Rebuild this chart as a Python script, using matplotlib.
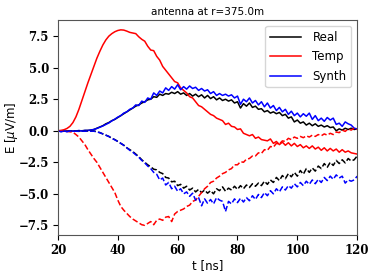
import numpy as np
import matplotlib
matplotlib.use("Agg")
import matplotlib.pyplot as plt

# time axis [ns], 1 ns steps
t = np.arange(20, 121, 1)

real_pos = [0.0, 0.0, -0.02, -0.03, -0.03, -0.02, -0.02, 0.0, 0.0, 0.02, 0.03, 0.05,
            0.1, 0.2, 0.3, 0.4, 0.55, 0.65, 0.8, 0.9, 1.05, 1.2, 1.35, 1.5, 1.65, 1.8,
            1.95, 2.05, 2.2, 2.3, 2.45, 2.5, 2.7, 2.65, 2.9, 2.8, 2.95, 2.9, 3.05, 2.95,
            3.1, 2.9, 3.0, 2.8, 2.95, 2.75, 2.9, 2.7, 2.85, 2.6, 2.8, 2.55, 2.7, 2.45,
            2.6, 2.4, 2.5, 2.35, 2.45, 2.2, 2.3, 1.8, 2.15, 1.95, 2.2, 1.85, 1.95, 1.7,
            1.75, 1.5, 1.6, 1.4, 1.5, 1.35, 1.45, 1.2, 1.3, 1.0, 1.1, 0.7, 0.85, 0.6,
            0.7, 0.45, 0.6, 0.4, 0.55, 0.35, 0.45, 0.3, 0.4, 0.25, 0.3, 0.0, 0.15, 0.05,
            0.2, 0.1, 0.2, 0.1, 0.15]
real_neg = [0.0, -0.05, -0.02, -0.04, -0.03, -0.05, -0.03, -0.02, -0.03, -0.02, -0.03, -0.03,
            -0.02, -0.08, -0.15, -0.25, -0.35, -0.45, -0.6, -0.7, -0.85, -1.0, -1.15, -1.35,
            -1.5, -1.65, -1.85, -2.05, -2.3, -2.5, -2.7, -2.85, -3.05, -3.1, -3.3, -3.4,
            -3.7, -3.75, -4.05, -4.0, -4.35, -4.25, -4.55, -4.4, -4.7, -4.55, -4.85, -4.65,
            -4.9, -4.7, -4.95, -4.75, -5.0, -4.6, -4.75, -4.45, -4.8, -4.55, -4.7, -4.4,
            -4.65, -4.35, -4.6, -4.3, -4.5, -4.2, -4.4, -4.15, -4.35, -4.0, -4.25, -3.9,
            -4.1, -3.7, -3.95, -3.55, -3.8, -3.4, -3.65, -3.3, -3.6, -3.15, -3.45, -3.0,
            -3.3, -2.95, -3.2, -2.8, -3.0, -2.6, -2.9, -2.5, -2.75, -2.35, -2.6, -2.3,
            -2.55, -2.2, -2.4, -2.3, -2.0]

temp_pos = [0.0, 0.03, 0.08, 0.18, 0.35, 0.65, 1.1, 1.7, 2.4, 3.1, 3.8, 4.45, 5.1, 5.75,
            6.3, 6.8, 7.2, 7.5, 7.7, 7.85, 7.95, 8.0, 7.98, 7.9, 7.8, 7.75, 7.7, 7.45,
            7.25, 7.1, 6.7, 6.4, 6.35, 5.9, 5.6, 5.1, 4.8, 4.5, 4.2, 3.9, 3.8, 3.4, 3.2,
            3.0, 2.7, 2.6, 2.3, 2.0, 1.9, 1.7, 1.5, 1.3, 1.2, 1.0, 0.9, 0.8, 0.5, 0.6,
            0.35, 0.3, 0.1, 0.15, -0.2, -0.3, -0.4, -0.3, -0.6, -0.5, -0.7, -0.75, -0.8,
            -0.65, -1.0, -0.85, -1.1, -0.9, -1.15, -0.95, -1.2, -1.0, -1.25, -1.1, -1.35,
            -1.2, -1.4, -1.2, -1.45, -1.3, -1.55, -1.35, -1.6, -1.4, -1.6, -1.45, -1.7,
            -1.5, -1.7, -1.6, -1.75, -1.8, -1.85]
temp_neg = [0.0, 0.0, -0.02, -0.05, -0.08, -0.12, -0.3, -0.5, -0.8, -1.1, -1.5, -1.85,
            -2.2, -2.5, -2.9, -3.3, -3.7, -4.1, -4.5, -4.9, -5.5, -6.0, -6.3, -6.55, -6.8,
            -7.0, -7.15, -7.3, -7.45, -7.5, -7.35, -7.2, -7.45, -7.1, -7.0, -7.1, -6.85,
            -6.8, -7.2, -6.6, -6.4, -6.3, -6.2, -6.0, -5.9, -5.6, -5.5, -5.2, -4.9, -4.6,
            -4.4, -4.1, -4.0, -3.75, -3.6, -3.4, -3.3, -3.1, -3.0, -2.7, -2.7, -2.45, -2.5,
            -2.25, -2.2, -2.0, -2.0, -1.75, -1.8, -1.5, -1.55, -1.25, -1.3, -1.0, -1.05,
            -0.8, -0.85, -0.6, -0.7, -0.5, -0.6, -0.45, -0.55, -0.4, -0.5, -0.35, -0.45,
            -0.3, -0.4, -0.25, -0.35, -0.2, -0.3, -0.1, -0.15, 0.05, -0.05, 0.15, 0.05,
            0.2, 0.1]

synth_pos = [0.0, -0.05, -0.02, -0.06, 0.0, -0.04, -0.02, 0.02, -0.02, 0.03, 0.02, 0.06,
             0.1, 0.18, 0.28, 0.38, 0.5, 0.62, 0.78, 0.92, 1.08, 1.2, 1.4, 1.5, 1.7, 1.8,
             2.05, 2.0, 2.35, 2.25, 2.6, 2.5, 3.0, 2.8, 3.15, 3.0, 3.4, 3.2, 3.5, 3.3,
             3.65, 3.25, 3.5, 3.3, 3.55, 3.35, 3.45, 3.2, 3.35, 3.15, 3.25, 2.95, 3.1,
             2.8, 2.95, 2.8, 2.9, 2.75, 2.85, 2.6, 2.75, 2.1, 2.5, 2.3, 2.6, 2.2, 2.4,
             2.05, 2.3, 1.9, 2.2, 1.8, 2.0, 1.6, 1.85, 1.5, 1.7, 1.3, 1.55, 1.2, 1.4,
             1.1, 1.35, 1.15, 1.4, 0.9, 1.2, 0.8, 1.0, 0.75, 1.05, 0.85, 1.0, 0.5, 0.6,
             0.35, 0.7, 0.55, 0.45, 0.2, 0.15]
synth_neg = [0.0, -0.08, -0.03, -0.07, -0.02, -0.06, -0.03, -0.05, -0.02, -0.04, -0.02, -0.03,
             -0.03, -0.1, -0.15, -0.25, -0.35, -0.45, -0.6, -0.72, -0.85, -1.0, -1.15, -1.35,
             -1.55, -1.7, -1.9, -2.1, -2.35, -2.55, -2.8, -3.0, -3.3, -3.45, -3.9, -3.75,
             -4.3, -4.1, -4.6, -4.4, -4.8, -4.6, -5.0, -4.85, -5.2, -4.95, -5.5, -5.3,
             -5.95, -5.4, -5.75, -5.45, -5.8, -5.3, -5.5, -5.6, -6.4, -5.6, -5.8, -5.4,
             -5.7, -5.35, -5.65, -5.3, -5.55, -5.15, -5.45, -5.05, -5.3, -4.9, -5.15, -4.75,
             -5.0, -4.6, -4.85, -4.45, -4.7, -4.35, -4.55, -4.2, -4.45, -4.1, -4.35, -4.0,
             -4.25, -3.9, -4.2, -3.85, -4.1, -3.7, -3.95, -3.6, -3.85, -3.5, -3.75, -3.6,
             -4.15, -3.9, -4.0, -3.9, -3.6]

fig = plt.figure(figsize=(3.74, 2.75), dpi=100)
ax = fig.add_axes([0.155, 0.145, 0.8, 0.782])

lw = 1.1
ax.plot(t, real_pos, color="black", lw=lw, label="Real")
ax.plot(t, temp_pos, color="red", lw=lw, label="Temp")
ax.plot(t, synth_pos, color="blue", lw=lw, label="Synth")
ax.plot(t, real_neg, color="black", lw=lw, ls="--")
ax.plot(t, temp_neg, color="red", lw=lw, ls="--")
ax.plot(t, synth_neg, color="blue", lw=lw, ls="--")

ax.set_xlim(20, 120)
ax.set_yticks([-7.5, -5.0, -2.5, 0.0, 2.5, 5.0, 7.5])
ax.set_xticks([20, 40, 60, 80, 100, 120])
for lab in ax.get_xticklabels() + ax.get_yticklabels():
    lab.set_fontfamily("DejaVu Serif")
    lab.set_fontsize(8.5)
    lab.set_fontweight("bold")
ax.tick_params(length=3.5, width=0.8, pad=3)
for sp in ax.spines.values():
    sp.set_color("#555555")

ax.set_xlabel("t [ns]", fontsize=8.5, labelpad=1)
ax.set_ylabel(r"E [$\mu$V/m]", fontsize=8.5)
# label's right edge sits about 19 px from the figure's left edge
ax.yaxis.set_label_coords(-0.128, 0.5)
ax.set_title("antenna at r=375.0m", fontsize=7.5, pad=4)
ax.legend(loc="upper right", fontsize=8.5, handlelength=2.6, handletextpad=1.0,
          labelspacing=0.55, framealpha=0.8, borderaxespad=0.5)

fig.savefig("out.png", dpi=100)
